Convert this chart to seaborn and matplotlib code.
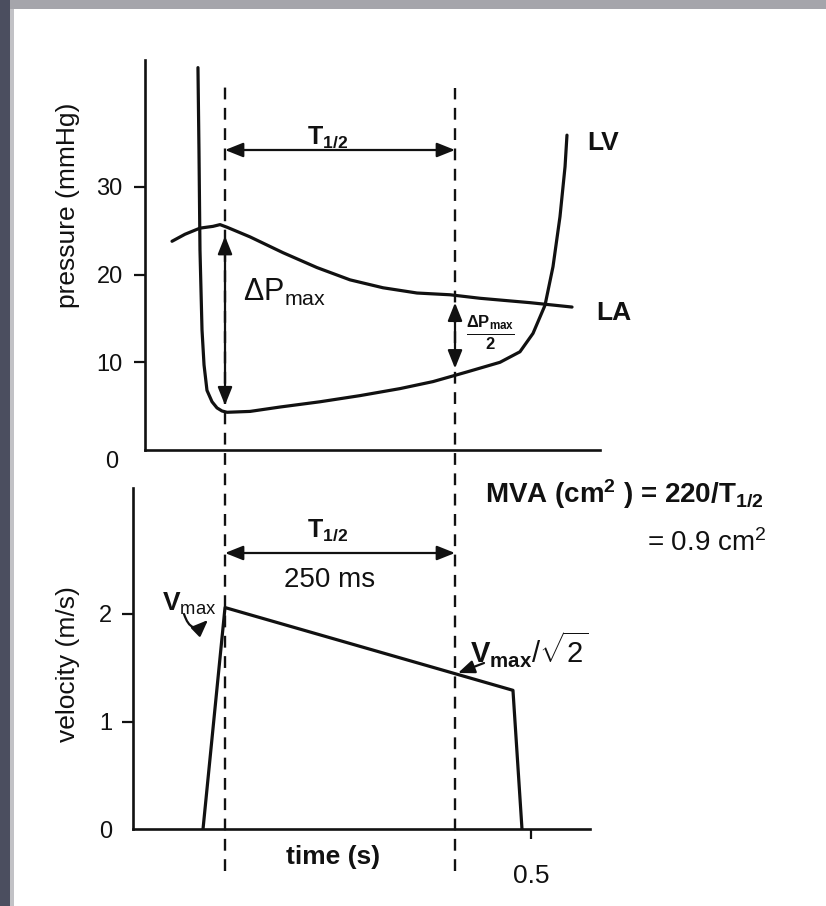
import numpy as np
import pandas as pd
import matplotlib
matplotlib.use("Agg")
import matplotlib.pyplot as plt
import seaborn as sns
from matplotlib.patches import Rectangle

# ---------------- data ----------------
la_time = [0.1098, 0.1239, 0.1402, 0.1543, 0.1620, 0.1696, 0.1946, 0.2304, 0.2674,
           0.3033, 0.3391, 0.3761, 0.4120, 0.4446, 0.4663, 0.4989, 0.5446]
la_pressure = [23.8, 24.6, 25.3, 25.5, 25.7, 25.4, 24.3, 22.5, 20.8,
               19.4, 18.5, 17.9, 17.7, 17.3, 17.1, 16.8, 16.3]

lv_time = [0.1380, 0.1391, 0.1402, 0.1424, 0.1446, 0.1478, 0.1533, 0.1587, 0.1641,
           0.1696, 0.1946, 0.2272, 0.2707, 0.3141, 0.3576, 0.3935, 0.4304, 0.4663,
           0.4880, 0.5022, 0.5152, 0.5239, 0.5315, 0.5370, 0.5391]
lv_pressure = [43.6, 34.2, 22.8, 13.7, 9.7, 6.8, 5.5, 4.8, 4.45,
               4.3, 4.4, 4.9, 5.5, 6.2, 7.0, 7.8, 8.9, 10.0,
               11.2, 13.3, 16.5, 20.9, 26.6, 32.3, 35.9]

vel_time = [0.1435, 0.1674, 0.4804, 0.4902]
vel_value = [0.0, 2.06, 1.29, 0.0]

t_peak = 0.1674          # time of peak gradient / Vmax
t_half = 0.4174          # t_peak + 250 ms
dp_max_top, dp_max_bot = 24.4, 5.1
dp_half_top, dp_half_bot = 16.8, 9.3

pressure_ticks = [10, 20, 30]
pressure_tick_labels = ["10", "20", "30"]
velocity_ticks = [0, 1, 2]
velocity_tick_labels = ["0", "1", "2"]
time_ticks = [0.5]
time_tick_labels = ["0.5"]

# ---------------- style ----------------
sns.set_theme(style="ticks")
plt.rcParams["font.family"] = ["Liberation Sans", "DejaVu Sans"]
plt.rcParams["mathtext.fontset"] = "custom"
plt.rcParams["mathtext.rm"] = "Liberation Sans"
plt.rcParams["mathtext.it"] = "Liberation Sans:italic"
plt.rcParams["mathtext.bf"] = "Liberation Sans:bold"
plt.rcParams["mathtext.sf"] = "Liberation Sans"

INK = "#111111"
W, H = 826, 906
PX_PER_S = 920.0
X0 = 71.0


def px2t(x):
    return (x - X0) / PX_PER_S


fig = plt.figure(figsize=(W / 100, H / 100), dpi=100)
fig.patch.set_facecolor("white")

# slide frame
fig.patches.append(Rectangle((0, 1 - 9 / H), 1, 9 / H, transform=fig.transFigure,
                             facecolor="#a5a5ab", edgecolor="none", zorder=0))
fig.patches.append(Rectangle((10 / W, 0), 4 / W, 1 - 9 / H, transform=fig.transFigure,
                             facecolor="#c2c2c6", edgecolor="none", zorder=0))
fig.patches.append(Rectangle((0, 0), 10 / W, 1, transform=fig.transFigure,
                             facecolor="#4b4e5f", edgecolor="none", zorder=0))


def add_ax(L, R, T, B):
    a = fig.add_axes([L / W, 1 - B / H, (R - L) / W, (B - T) / H])
    a.set_xlim(px2t(L), px2t(R))
    a.patch.set_alpha(0)
    return a


ax_p = add_ax(145, 600, 60, 450)
ax_v = add_ax(133, 590, 488, 829)
ax_p.set_ylim(0, (450 - 60) / 8.77)
ax_v.set_ylim(0, (829 - 488) / 107.5)

LW = 2.3
df_la = pd.DataFrame({"time": la_time, "pressure": la_pressure})
df_lv = pd.DataFrame({"time": lv_time, "pressure": lv_pressure})
df_v = pd.DataFrame({"time": vel_time, "velocity": vel_value})
sns.lineplot(data=df_la, x="time", y="pressure", ax=ax_p, color=INK, lw=LW,
             sort=False, estimator=None)
sns.lineplot(data=df_lv, x="time", y="pressure", ax=ax_p, color=INK, lw=LW,
             sort=False, estimator=None)
sns.lineplot(data=df_v, x="time", y="velocity", ax=ax_v, color=INK, lw=LW,
             sort=False, estimator=None)
for a in (ax_p, ax_v):
    for ln in a.get_lines():
        ln.set_solid_joinstyle("round")
        ln.set_solid_capstyle("round")

for a in (ax_p, ax_v):
    sns.despine(ax=a)
    for s in ("left", "bottom"):
        a.spines[s].set_linewidth(1.9)
        a.spines[s].set_color(INK)

# pressure axis
ax_p.set_xticks([])
ax_p.set_yticks(pressure_ticks)
ax_p.set_yticklabels(pressure_tick_labels)
ax_p.tick_params(axis="y", direction="out", length=8, width=1.6, labelsize=17,
                 pad=8, colors=INK)
ax_p.text(px2t(112), -1.4, "0", fontsize=17, ha="center", va="center", color=INK)
ax_p.set_ylabel("pressure (mmHg)", fontsize=19, color=INK)
ax_p.yaxis.set_label_coords((68 - 145) / 455, (450 - 205) / 390)
ax_p.yaxis.label.set_va("center")
ax_p.set_xlabel("")

# velocity axis
ax_v.set_xticks(time_ticks)
ax_v.set_xticklabels(time_tick_labels)
ax_v.set_yticks(velocity_ticks)
ax_v.set_yticklabels(velocity_tick_labels)
ax_v.tick_params(axis="y", direction="out", length=8, width=1.6, labelsize=17,
                 pad=7, colors=INK)
ax_v.tick_params(axis="x", direction="out", length=7, width=1.6, labelsize=19,
                 pad=18, colors=INK)
ax_v.yaxis.get_major_ticks()[0].tick1line.set_visible(False)
ax_v.set_ylabel("velocity (m/s)", fontsize=19, color=INK)
ax_v.yaxis.set_label_coords((68 - 133) / 457, (829 - 664) / 341)
ax_v.yaxis.label.set_va("center")
ax_v.set_xlabel("time (s)", fontsize=19, fontweight="bold", color=INK)
ax_v.xaxis.set_label_coords((333 - 133) / 457, (829 - 857) / 341)
ax_v.xaxis.label.set_va("center")

# dashed guide lines through both panels
ax_o = fig.add_axes([0, 0, 1, 1])
ax_o.set_xlim(px2t(0), px2t(W))
ax_o.set_ylim(0, 1)
ax_o.axis("off")
for t, top in ((t_peak, 80), (t_half, 88)):
    ax_o.axvline(t, ymin=1 - 871 / H, ymax=1 - top / H, color=INK, lw=1.7,
                 linestyle=(0, (5.0, 3.6)))

arrow2 = dict(arrowstyle="<|-|>,head_length=0.55,head_width=0.22", color=INK, lw=1.6,
              shrinkA=0, shrinkB=0, mutation_scale=20)
arrow1 = dict(arrowstyle="-|>,head_length=0.5,head_width=0.2", color=INK, lw=1.6,
              shrinkA=0, shrinkB=0, mutation_scale=20)

# T1/2 arrows
ax_p.annotate("", xy=(t_peak, (450 - 150) / 8.77), xytext=(t_half, (450 - 150) / 8.77),
              arrowprops=arrow2)
ax_v.annotate("", xy=(t_peak, (829 - 553) / 107.5), xytext=(t_half, (829 - 553) / 107.5),
              arrowprops=arrow2)
# pressure gradient arrows
ax_p.annotate("", xy=(t_peak, dp_max_top), xytext=(t_peak, dp_max_bot), arrowprops=arrow2)
ax_p.annotate("", xy=(t_half, dp_half_top), xytext=(t_half, dp_half_bot), arrowprops=arrow2)

# labels in pressure panel
ax_p.text(px2t(328), (450 - 137) / 8.77, r"$\mathbf{T}_{\mathbf{1/2}}$", fontsize=18,
          ha="center", va="center", color=INK)
ax_p.text(px2t(243), (450 - 292) / 8.77, r"$\mathrm{\Delta P_{max}}$", fontsize=22,
          ha="left", va="center", color=INK)
ax_p.text(px2t(490), (450 - 333) / 8.77,
          r"$\frac{\mathbf{\Delta P_{max}}}{\mathbf{2}}$",
          fontsize=17, ha="center", va="center", color=INK)
ax_p.text(px2t(603), (450 - 143) / 8.77, "LV", fontsize=19, fontweight="bold",
          ha="center", va="center", color=INK)
ax_p.text(px2t(614), (450 - 313) / 8.77, "LA", fontsize=19, fontweight="bold",
          ha="center", va="center", color=INK)

# labels in velocity panel
ax_v.text(px2t(328), (829 - 530) / 107.5, r"$\mathbf{T}_{\mathbf{1/2}}$", fontsize=18,
          ha="center", va="center", color=INK)
ax_v.text(px2t(330), (829 - 580) / 107.5, "250 ms", fontsize=20,
          ha="center", va="center", color=INK)
ax_v.text(px2t(162), (829 - 604) / 107.5, r"$\mathbf{V}_{\mathrm{max}}$", fontsize=19,
          ha="left", va="center", color=INK)
ax_v.annotate("", xy=(px2t(208), (829 - 620) / 107.5), xytext=(px2t(184), (829 - 614) / 107.5),
              arrowprops=dict(arrow1, connectionstyle="arc3,rad=0.8"))
ax_v.text(px2t(470), (829 - 650) / 107.5, r"$\mathbf{V_{max}}/\sqrt{\mathrm{2}}$", fontsize=21,
          ha="left", va="center", color=INK)
ax_v.annotate("", xy=(px2t(458), (829 - 673) / 107.5), xytext=(px2t(484), (829 - 663) / 107.5),
              arrowprops=arrow1)

# MVA formula
fig.text(485 / W, 1 - 494 / H, r"MVA (cm$^{\mathbf{2}}$ ) = 220/T$_{\mathbf{1/2}}$",
         fontsize=20, fontweight="bold", ha="left", va="center", color=INK)
fig.text(647 / W, 1 - 543 / H, r"= 0.9 cm$^{\mathrm{2}}$", fontsize=20,
         ha="left", va="center", color=INK)

fig.savefig("out.png", dpi=100, facecolor=fig.get_facecolor())
